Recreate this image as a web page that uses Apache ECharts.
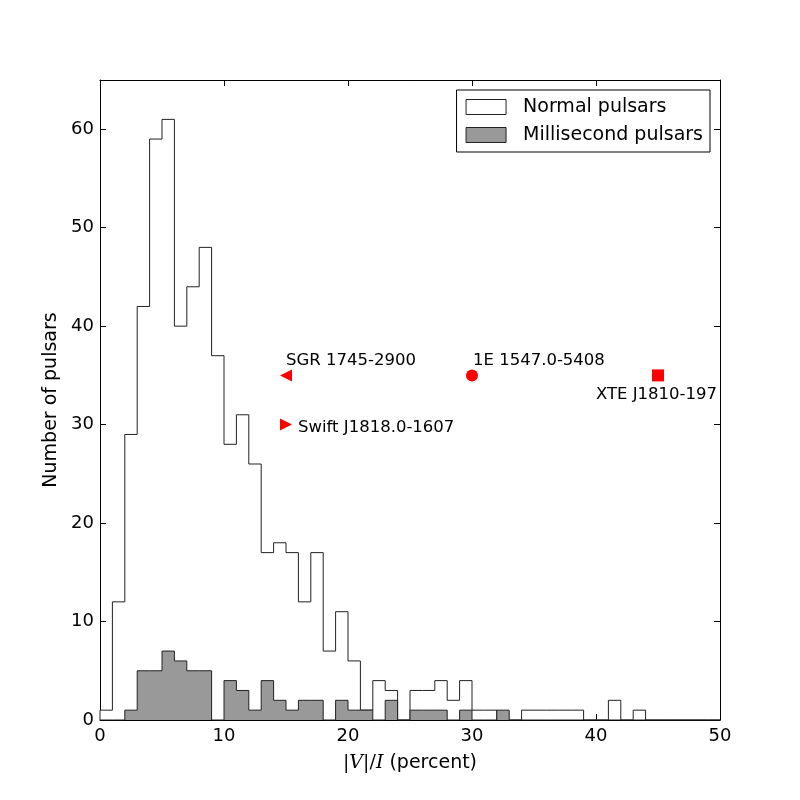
<!DOCTYPE html>
<html>
<head>
<meta charset="utf-8">
<script src="https://cdn.jsdelivr.net/npm/echarts@6/dist/echarts.min.js"></script>
<style>
  html, body { margin: 0; padding: 0; background: #fff; }
  #chart { width: 800px; height: 800px; }
</style>
</head>
<body>
<div id="chart"></div>
<script>
// Histogram bins: 1 percent wide, from 0 to 50
const binStarts = Array.from({ length: 50 }, (_, i) => i);
const normalCounts = [
  1, 12, 29, 42, 59, 61, 40, 44, 48, 37,
  28, 31, 26, 17, 18, 17, 12, 17, 7, 11,
  6, 1, 4, 3, 0, 3, 3, 4, 2, 4,
  1, 1, 0, 0, 1, 1, 1, 1, 1, 0,
  0, 2, 0, 1, 0, 0, 0, 0, 0, 0
];
const mspCounts = [
  0, 0, 1, 5, 5, 7, 6, 5, 5, 0,
  4, 3, 1, 4, 2, 1, 2, 2, 0, 2,
  1, 1, 0, 2, 0, 1, 1, 1, 0, 1,
  0, 0, 1, 0, 0, 0, 0, 0, 0, 0,
  0, 0, 0, 0, 0, 0, 0, 0, 0, 0
];

// Magnetars
const magnetarNames = ['SGR 1745-2900', 'Swift J1818.0-1607', '1E 1547.0-5408', 'XTE J1810-197'];
const magnetarX = [15, 15, 30, 45];
const magnetarY = [35, 30, 35, 35];

const xTicks = [0, 10, 20, 30, 40, 50];
const yTicks = [0, 10, 20, 30, 40, 50, 60];

// Step outline points built from bin counts
function stepPoints(counts) {
  const pts = [[binStarts[0], 0]];
  counts.forEach((c, i) => pts.push([binStarts[i], c]));
  const last = binStarts[binStarts.length - 1] + 1;
  pts.push([last, counts[counts.length - 1]]);
  pts.push([last, 0]);
  return pts;
}

const FONT = 'DejaVu Sans';
const leftTri = 'path://M10,0 L10,10 L0,5 Z';
const rightTri = 'path://M0,0 L10,5 L0,10 Z';

const markerStyles = [
  { symbol: leftTri, label: { align: 'left', offset: [0, -15] } },
  { symbol: rightTri, label: { align: 'left', offset: [12, 3] } },
  { symbol: 'circle', label: { align: 'left', offset: [1, -15] } },
  { symbol: 'rect', label: { align: 'right', offset: [59, 19] } }
];

const magnetarData = magnetarNames.map((name, i) => ({
  name: name,
  value: [magnetarX[i], magnetarY[i]],
  symbol: markerStyles[i].symbol,
  label: {
    show: true,
    formatter: name,
    position: 'inside',
    verticalAlign: 'middle',
    align: markerStyles[i].label.align,
    offset: markerStyles[i].label.offset,
    fontFamily: FONT,
    fontSize: 16.5,
    color: '#000'
  }
}));

const chart = echarts.init(document.getElementById('chart'));

function tick() {
  return { show: true, inside: true, length: 6, lineStyle: { color: '#000', width: 1 } };
}
function spine() {
  return { show: true, onZero: false, lineStyle: { color: '#000', width: 1 } };
}

const option = {
  animation: false,
  backgroundColor: '#fff',
  grid: { left: 100, right: 80, top: 80, bottom: 80 },
  legend: {
    orient: 'vertical',
    right: 90,
    top: 90,
    padding: [7, 7, 7, 9],
    itemGap: 8,
    itemWidth: 40,
    itemHeight: 15,
    borderColor: '#000',
    borderWidth: 1,
    borderRadius: 0,
    textStyle: { fontFamily: FONT, fontSize: 19, color: '#000', lineHeight: 20, padding: [0, 0, 0, 12] },
    data: [
      { name: 'Normal pulsars', icon: 'rect', itemStyle: { color: '#fff', borderColor: '#222', borderWidth: 1 } },
      { name: 'Millisecond pulsars', icon: 'rect', itemStyle: { color: '#999999', borderColor: '#222', borderWidth: 1 } }
    ]
  },
  xAxis: [
    {
      type: 'value',
      min: 0, max: 50, interval: 10,
      position: 'bottom',
      axisLine: spine(),
      axisTick: tick(),
      splitLine: { show: false },
      axisLabel: {
        margin: 7,
        fontFamily: FONT, fontSize: 18, color: '#000',
        formatter: v => xTicks.indexOf(v) >= 0 ? String(v) : ''
      },
      name: '{s||}{i|V}{s||/}{i|I}{n| (percent)}',
      nameLocation: 'middle',
      nameGap: 34,
      nameTextStyle: {
        rich: {
          s: { fontFamily: 'DejaVu Serif', fontSize: 19, color: '#000' },
          i: { fontFamily: 'DejaVu Serif', fontStyle: 'italic', fontSize: 19, color: '#000' },
          n: { fontFamily: FONT, fontSize: 19, color: '#000' }
        }
      }
    },
    {
      type: 'value',
      min: 0, max: 50, interval: 10,
      position: 'top',
      axisLine: spine(),
      axisTick: tick(),
      axisLabel: { show: false },
      splitLine: { show: false }
    }
  ],
  yAxis: [
    {
      type: 'value',
      min: 0, max: 65, interval: 10,
      position: 'left',
      axisLine: spine(),
      axisTick: tick(),
      splitLine: { show: false },
      axisLabel: {
        margin: 6,
        fontFamily: FONT, fontSize: 18, color: '#000',
        formatter: v => yTicks.indexOf(v) >= 0 ? String(v) : ''
      },
      name: 'Number of pulsars',
      nameLocation: 'middle',
      nameGap: 32,
      nameTextStyle: { fontFamily: FONT, fontSize: 19, color: '#000' }
    },
    {
      type: 'value',
      min: 0, max: 65, interval: 10,
      position: 'right',
      axisLine: spine(),
      axisTick: tick(),
      axisLabel: { show: false },
      splitLine: { show: false }
    }
  ],
  series: [
    {
      name: 'Normal pulsars',
      type: 'line',
      step: 'end',
      data: stepPoints(normalCounts),
      showSymbol: false,
      lineStyle: { color: '#222', width: 1 },
      itemStyle: { color: '#fff' },
      areaStyle: { color: '#fff', opacity: 1, origin: 'start' },
      z: 2
    },
    {
      name: 'Millisecond pulsars',
      type: 'line',
      step: 'end',
      data: stepPoints(mspCounts),
      showSymbol: false,
      lineStyle: { color: '#222', width: 1 },
      itemStyle: { color: '#999999' },
      areaStyle: { color: '#999999', opacity: 1, origin: 'start' },
      z: 3
    },
    {
      name: 'Magnetars',
      type: 'scatter',
      data: magnetarData,
      symbolSize: 12,
      itemStyle: { color: '#ff0000', opacity: 1 },
      z: 5
    },
    {
      name: 'frame',
      type: 'line',
      xAxisIndex: 1,
      yAxisIndex: 1,
      data: [],
      silent: true
    }
  ]
};

chart.setOption(option);
</script>
</body>
</html>
